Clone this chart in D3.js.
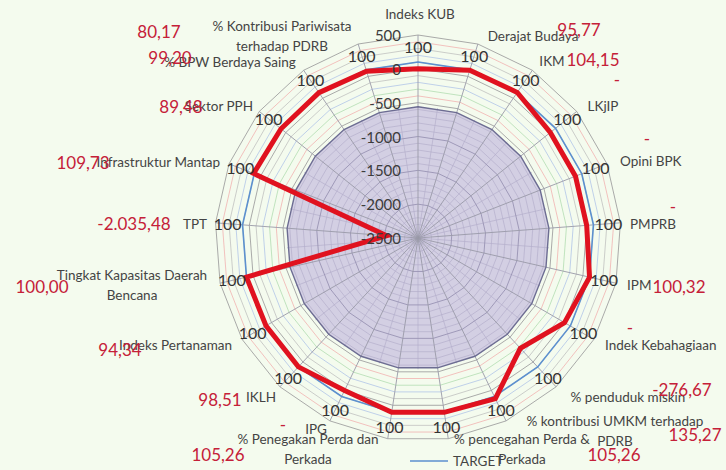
<!DOCTYPE html>
<html>
<head>
<meta charset="utf-8">
<script src="https://cdn.jsdelivr.net/npm/d3@7"></script>
<style>
body { margin: 0; background: #f4fbee; }
svg { display: block; font-family: Lato, "Open Sans", sans-serif; }
</style>
</head>
<body>
<div id="canvas"></div>
<script>
// ---------------------------------------------------------
// DATA
// ---------------------------------------------------------
var categories = [
  "Indeks KUB", "Derajat Budaya", "IKM", "LKjIP", "Opini BPK", "PMPRB", "IPM",
  "Indek Kebahagiaan", "% penduduk miskin", "% kontribusi UMKM terhadap|PDRB",
  "% pencegahan Perda &|Perkada", "% Penegakan Perda dan|Perkada", "IPG", "IKLH",
  "Indeks Pertanaman", "Tingkat Kapasitas Daerah|Bencana", "TPT", "Infrastruktur Mantap",
  "Sektor PPH", "% BPW Berdaya Saing", "% Kontribusi Pariwisata|terhadap PDRB"
];
var target = [100, 100, 100, 100, 100, 100, 100, 100, 100, 100, 100,
              100, 100, 100, 100, 100, 100, 100, 100, 100, 100];
var realisasi = [0, 95.77, 104.15, 0, 0, 0, 100.32, 0, -276.67, 135.27, 105.26,
                 105.26, 0, 98.51, 94.34, 100.00, -2035.48, 109.73, 89.48, 99.20, 80.17];
var realisasiLabels = ["", "95,77", "104,15", "-", "-", "-", "100,32", "-", "-276,67", "135,27", "105,26",
                       "105,26", "-", "98,51", "94,34", "100,00", "-2.035,48", "109,73", "89,48", "99,20", "80,17"];
var shade = [-560, -560, -560, -560, -560, -560, -560, -560, -560, -560, -560,
             -560, -560, -560, -560, -560, -560, -560, -560, -560, -560];
var axisTicks = [-2500, -2000, -1500, -1000, -500, 0, 500];

// ---------------------------------------------------------
// LAYOUT
// ---------------------------------------------------------
var W = 726, H = 470;
var cx = 418, cy = 238, R = 203;

// hand placed label spots (category label: x, y, anchor)
var catPos = [
  [420, 19, "middle"], [533, 41, "middle"], [552, 66, "middle"], [603, 111, "middle"],
  [620, 166, "start"], [630, 229, "start"], [627, 290, "start"], [605, 350, "start"],
  [628, 402, "middle"], [615, 426, "middle"], [522, 444, "middle"], [308, 444, "middle"],
  [316, 434, "middle"], [261, 402, "middle"], [232, 350, "end"], [132, 280, "middle"],
  [207, 229, "end"], [220, 167, "end"], [253, 111, "end"], [230, 67, "middle"],
  [282, 31, "middle"]
];
var valPos = [
  null, [579, 36], [593, 66], [617, 86], [647, 145], [673, 213], [679, 293],
  [630, 334], [682, 396], [695, 441], [614, 461], [218, 461], [283, 431],
  [220, 406], [120, 356], [42, 293], [134, 230], [83, 169], [181, 113],
  [170, 64], [159, 38]
];

var n = categories.length;
var rScale = d3.scaleLinear().domain([-2500, 500]).range([0, R]);
var ang = function(i) { return i * 2 * Math.PI / n; };
var px = function(i, r) { return cx + r * Math.sin(ang(i)); };
var py = function(i, r) { return cy - r * Math.cos(ang(i)); };

var svg = d3.select("#canvas").append("svg")
  .attr("width", W).attr("height", H)
  .style("background-color", "#f4fbee");

var g = svg.append("g").attr("transform", `translate(${cx},${cy})`);

var radial = d3.lineRadial()
  .angle(function(d, i) { return ang(i); })
  .radius(function(d) { return rScale(d); })
  .curve(d3.curveLinearClosed);

// shaded series
g.append("path")
  .attr("d", radial(shade))
  .attr("fill", "#d3cfe3")
  .attr("stroke", "none");

// minor rings
var ringColors = ["#f1a7a7", "#a9d9a9", "#a7bde6", "#b9b9b9"];
d3.range(-2400, 500, 100).forEach(function(v, k) {
  if (v % 500 === 0) return;
  g.append("path")
    .attr("d", radial(categories.map(function() { return v; })))
    .attr("fill", "none")
    .attr("stroke", v < -560 ? "#b4afcb" : ringColors[k % 4])
    .attr("stroke-width", 0.7);
});

// extra inner spokes inside the shaded part
categories.forEach(function(c, i) {
  var a = ang(i) + Math.PI / n;
  g.append("line")
    .attr("x1", 0).attr("y1", 0)
    .attr("x2", rScale(-560) * Math.sin(a))
    .attr("y2", -rScale(-560) * Math.cos(a))
    .attr("stroke", "#b4afcb")
    .attr("stroke-width", 0.7);
});

// major rings
axisTicks.forEach(function(v) {
  if (v === -2500) return;
  g.append("path")
    .attr("d", radial(categories.map(function() { return v; })))
    .attr("fill", "none")
    .attr("stroke", v < -560 ? "#9893b3" : "#a0a0a0")
    .attr("stroke-width", 0.9);
});

// spokes
categories.forEach(function(c, i) {
  g.append("line")
    .attr("x1", 0).attr("y1", 0)
    .attr("x2", rScale(500) * Math.sin(ang(i)))
    .attr("y2", -rScale(500) * Math.cos(ang(i)))
    .attr("stroke", "#9a9aa8")
    .attr("stroke-width", 0.9);
});

// shaded border
g.append("path")
  .attr("d", radial(shade))
  .attr("fill", "none")
  .attr("stroke", "#6c6c92")
  .attr("stroke-width", 1.4);

// target line
g.append("path")
  .attr("d", radial(target))
  .attr("fill", "none")
  .attr("stroke", "#5d8fcf")
  .attr("stroke-width", 1.6);

// realisasi line
g.append("path")
  .attr("d", radial(realisasi))
  .attr("fill", "none")
  .attr("stroke", "#e0121f")
  .attr("stroke-width", 5)
  .attr("stroke-linejoin", "miter");

// axis tick labels
svg.selectAll(".tick_label").data(axisTicks).enter().append("text")
  .attr("class", "tick_label")
  .attr("x", cx - 17)
  .attr("y", function(d) { return cy - rScale(d) + 6; })
  .attr("text-anchor", "end")
  .attr("font-size", 15)
  .attr("fill", "#3c3c3c")
  .text(function(d) { return d; });

// target data labels
svg.selectAll(".target_label").data(target).enter().append("text")
  .attr("class", "target_label")
  .attr("x", function(d, i) { return px(i, rScale(d) + 15); })
  .attr("y", function(d, i) { return py(i, rScale(d) + 15) + 6; })
  .attr("text-anchor", "middle")
  .attr("font-size", 16)
  .attr("fill", "#333")
  .text(function(d) { return d; });

// category labels
categories.forEach(function(c, i) {
  var p = catPos[i];
  var t = svg.append("text")
    .attr("x", p[0]).attr("y", p[1])
    .attr("text-anchor", p[2])
    .attr("font-size", 13.5)
    .attr("fill", "#444");
  c.split("|").forEach(function(line, k) {
    t.append("tspan").attr("x", p[0]).attr("dy", k === 0 ? 0 : 20).text(line);
  });
});

// realisasi data labels
realisasiLabels.forEach(function(l, i) {
  if (!valPos[i] || l === "") return;
  svg.append("text")
    .attr("x", valPos[i][0]).attr("y", valPos[i][1])
    .attr("text-anchor", "middle")
    .attr("font-size", 17)
    .attr("fill", "#c52038")
    .text(l);
});

// legend
svg.append("line")
  .attr("x1", 410).attr("x2", 448).attr("y1", 461).attr("y2", 461)
  .attr("stroke", "#5d8fcf").attr("stroke-width", 1.6);
svg.append("text")
  .attr("x", 453).attr("y", 466)
  .attr("font-size", 13.5)
  .attr("fill", "#444")
  .text("TARGET");
</script>
</body>
</html>
